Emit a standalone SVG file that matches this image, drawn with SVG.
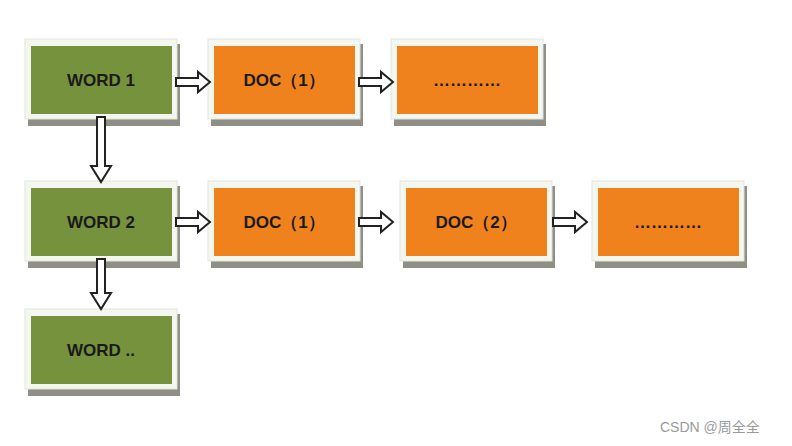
<svg xmlns="http://www.w3.org/2000/svg" width="792" height="446" viewBox="0 0 792 446">
<style>
.fr{fill:#f4f6f0;stroke:#e2e6dc;stroke-width:1}
.sh{fill:#8f8f86}
.g{fill:#76923c}
.o{fill:#f0821e}
.t{font-family:"Liberation Sans",Arial,sans-serif;font-weight:bold;font-size:17px;fill:#1a1a1a;text-anchor:middle}
.ar{fill:#fff;stroke:#222;stroke-width:2;stroke-linejoin:miter}
.wm{font-family:"Liberation Sans","Noto Sans CJK SC",sans-serif;font-size:14px;fill:#9a9a9a}
</style>
<defs>
<g id="frame"><rect class="sh" x="3" y="5" width="152" height="82"/><rect class="fr" x="0" y="0" width="152" height="80"/></g>
<path id="ha" class="ar" d="M0,-4 H22 V-10 L34,0 L22,10 V4 H0 Z"/>
</defs>
<g id="word1"><use href="#frame" x="25" y="39"/><rect class="g" x="31" y="46" width="141" height="68"/><text class="t" x="101" y="86">WORD 1</text></g>
<g id="doc1a"><use href="#frame" x="208" y="39"/><rect class="o" x="214" y="46" width="141" height="68"/><text class="t" x="284" y="86">DOC（1）</text></g>
<g id="dots1"><use href="#frame" x="391" y="39"/><rect class="o" x="397" y="46" width="141" height="68"/><text class="t" x="467" y="86">…………</text></g>
<g id="word2"><use href="#frame" x="25" y="181"/><rect class="g" x="31" y="188" width="141" height="68"/><text class="t" x="101" y="228">WORD 2</text></g>
<g id="doc1b"><use href="#frame" x="208" y="181"/><rect class="o" x="214" y="188" width="141" height="68"/><text class="t" x="284" y="228">DOC（1）</text></g>
<g id="doc2"><use href="#frame" x="400" y="181"/><rect class="o" x="406" y="188" width="141" height="68"/><text class="t" x="476" y="228">DOC（2）</text></g>
<g id="dots2"><use href="#frame" x="592" y="181"/><rect class="o" x="598" y="188" width="141" height="68"/><text class="t" x="668" y="228">…………</text></g>
<g id="word3"><use href="#frame" x="25" y="309"/><rect class="g" x="31" y="316" width="141" height="68"/><text class="t" x="101" y="356">WORD ..</text></g>
<g id="connectors">
<use href="#ha" x="176" y="82"/>
<use href="#ha" x="359" y="82"/>
<use href="#ha" x="176" y="222"/>
<use href="#ha" x="359" y="222"/>
<use href="#ha" x="553" y="222"/>
<path class="ar" d="M97,117 H105 V166 H111 L101,182 L91,166 H97 Z"/>
<path class="ar" d="M97,259 H105 V293 H111 L101,309 L91,293 H97 Z"/>
</g>
<text class="wm" x="660" y="432">CSDN @周全全</text>
</svg>
